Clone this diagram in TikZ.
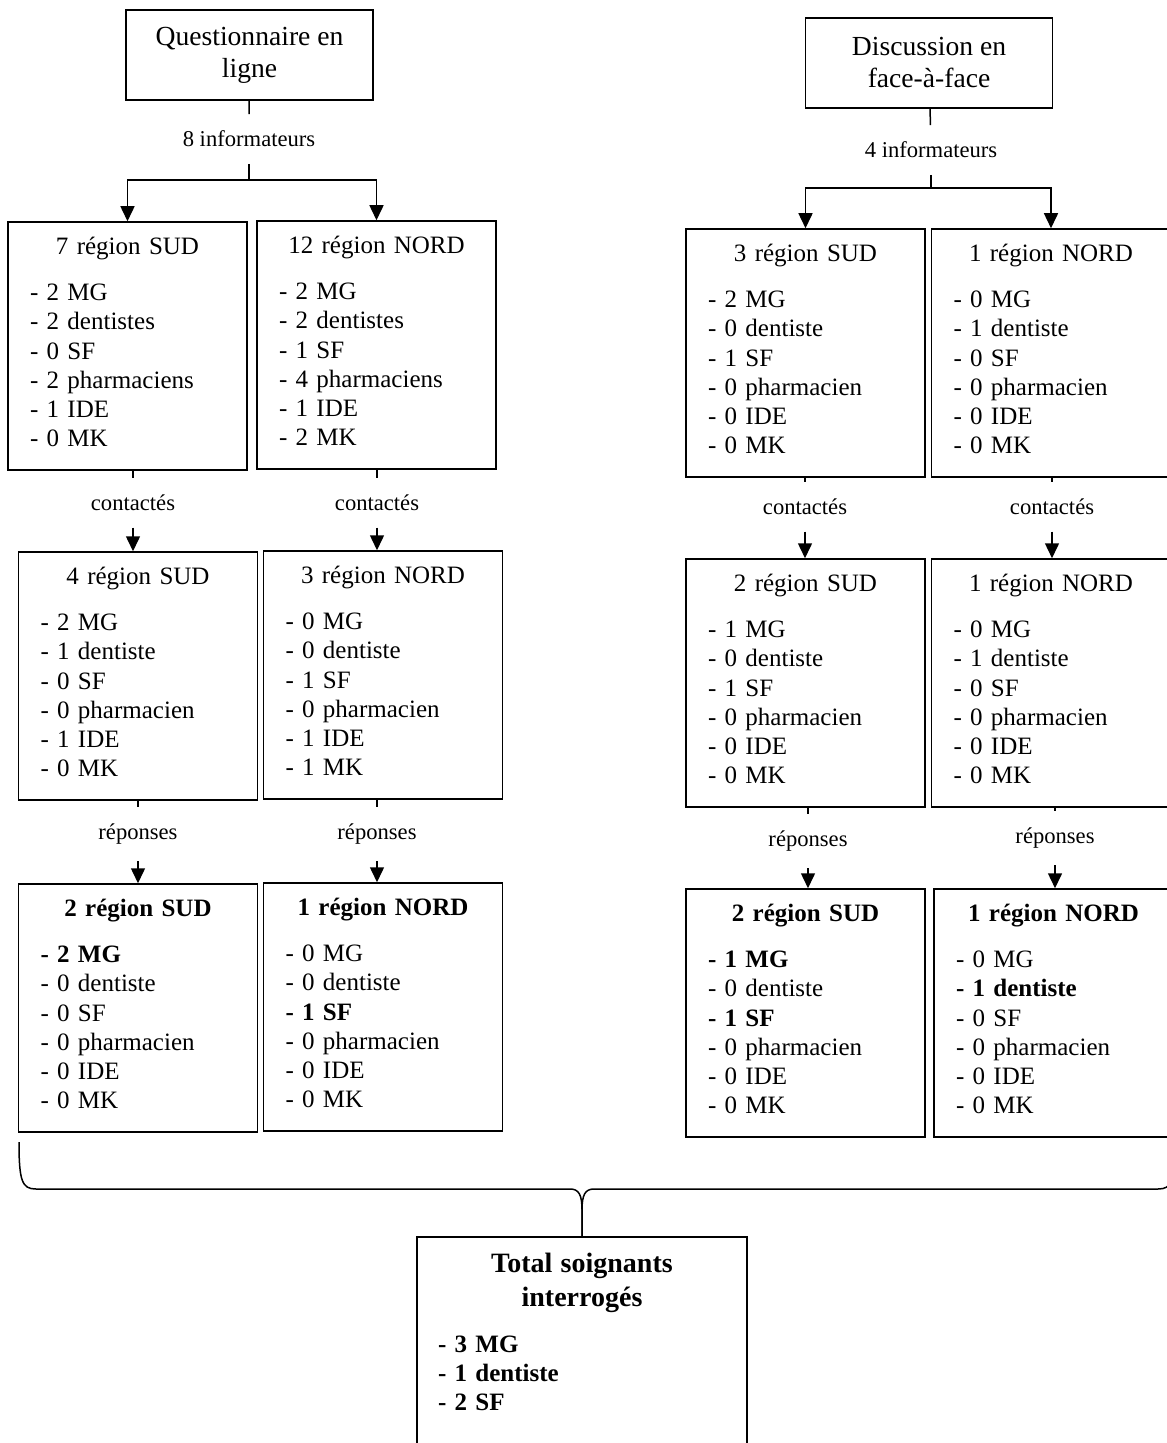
\documentclass[tikz,border=0pt]{standalone}
\usepackage{fontspec}
\setmainfont{Liberation Serif}
\usetikzlibrary{arrows.meta}
\tikzstyle{titre} = [rectangle, minimum width=123.5pt, minimum height=45pt, align=center, draw=black, font=\fontsize{13.8}{16}\selectfont]
\tikzstyle{region} = [rectangle, minimum width=119.5pt, minimum height=124pt, text width=97.5pt, inner xsep=11pt, align=left, draw=black, font=\fontsize{12.5}{14.65}\selectfont]
\tikzstyle{somme} = [rectangle, anchor=north, text width=144pt, inner xsep=10.5pt, inner ysep=8pt, text depth=100pt, align=left, draw=black, font=\fontsize{12.5}{14.5}\selectfont\bfseries]
\tikzstyle{etiq} = [inner xsep=2pt, inner ysep=8pt, font=\fontsize{11.3}{13}\selectfont]
\tikzstyle{arrow} = [->, >={Triangle[length=7.5pt,width=7pt]}]
\newcommand{\regbox}[2]{\makebox[\linewidth]{#1}\\[8.4pt]#2\rule[-4pt]{0pt}{0pt}}

\begin{document}
\begin{tikzpicture}[x=0.5pt, y=-0.5pt, line width=0.75pt, node distance=165pt]
        \useasboundingbox (0,0) rectangle (1166,1443);
        % questionnaire en ligne
        \node (quest) [titre] at (249.5,55) {Questionnaire en\\ligne};
        \node (inf1) [etiq] at (249,139) {8 informateurs};
        \coordinate (fork1) at (249,180);
        \node (sud1) [region] at (127.5,346) {\regbox{7 région SUD}{- 2 MG\\- 2 dentistes\\- 0 SF\\- 2 pharmaciens\\- 1 IDE\\- 0 MK}};
        \node (nord1) [region] at (376.5,345) {\regbox{12 région NORD}{- 2 MG\\- 2 dentistes\\- 1 SF\\- 4 pharmaciens\\- 1 IDE\\- 2 MK}};
        \node (sud2) [region, below of=sud1, xshift=5.25pt] {\regbox{4 région SUD}{- 2 MG\\- 1 dentiste\\- 0 SF\\- 0 pharmacien\\- 1 IDE\\- 0 MK}};
        \node (nord2) [region, below of=nord1, xshift=3.25pt] {\regbox{3 région NORD}{- 0 MG\\- 0 dentiste\\- 1 SF\\- 0 pharmacien\\- 1 IDE\\- 1 MK}};
        \node (sud3) [region, below of=sud2, yshift=-1pt] {\regbox{\textbf{2 région SUD}}{\textbf{- 2 MG}\\- 0 dentiste\\- 0 SF\\- 0 pharmacien\\- 0 IDE\\- 0 MK}};
        \node (nord3) [region, below of=nord2, yshift=-1pt] {\regbox{\textbf{1 région NORD}}{- 0 MG\\- 0 dentiste\\\textbf{- 1 SF}\\- 0 pharmacien\\- 0 IDE\\- 0 MK}};
        \node (cont1) [etiq] at (133,503) {contactés};
        \node (cont2) [etiq] at (377,503) {contactés};
        \node (rep1) [etiq] at (138,834) {réponses};
        \node (rep2) [etiq] at (377,834) {réponses};
        \draw (quest) -- (inf1);
        \draw (inf1) -- (fork1);
        \draw [arrow] (fork1) -| (sud1.north);
        \draw [arrow] (fork1) -| (nord1.north);
        \draw (sud1.south -| cont1) -- (cont1.north);
        \draw [arrow] (cont1.south) -- (cont1.south |- sud2.north);
        \draw (nord1.south -| cont2) -- (cont2.north);
        \draw [arrow] (cont2.south) -- (cont2.south |- nord2.north);
        \draw (sud2.south -| rep1) -- (rep1.north);
        \draw [arrow] (rep1.south) -- (rep1.south |- sud3.north);
        \draw (nord2.south -| rep2) -- (rep2.north);
        \draw [arrow] (rep2.south) -- (rep2.south |- nord3.north);

        % discussion en face-a-face
        \node (disc) [titre] at (929,63) {Discussion en\\face-à-face};
        \node (inf2) [etiq] at (931,150) {4 informateurs};
        \coordinate (fork2) at (931,188);
        \node (sud4) [region] at (805.5,353) {\regbox{3 région SUD}{- 2 MG\\- 0 dentiste\\- 1 SF\\- 0 pharmacien\\- 0 IDE\\- 0 MK}};
        \node (nord4) [region] at (1051,353) {\regbox{1 région NORD}{- 0 MG\\- 1 dentiste\\- 0 SF\\- 0 pharmacien\\- 0 IDE\\- 0 MK}};
        \node (sud5) [region, below of=sud4] {\regbox{2 région SUD}{- 1 MG\\- 0 dentiste\\- 1 SF\\- 0 pharmacien\\- 0 IDE\\- 0 MK}};
        \node (nord5) [region, below of=nord4] {\regbox{1 région NORD}{- 0 MG\\- 1 dentiste\\- 0 SF\\- 0 pharmacien\\- 0 IDE\\- 0 MK}};
        \node (sud6) [region, below of=sud5] {\regbox{\textbf{2 région SUD}}{\textbf{- 1 MG}\\- 0 dentiste\\\textbf{- 1 SF}\\- 0 pharmacien\\- 0 IDE\\- 0 MK}};
        \node (nord6) [region, below of=nord5, xshift=1.25pt] {\regbox{\textbf{1 région NORD}}{- 0 MG\\\textbf{- 1 dentiste}\\- 0 SF\\- 0 pharmacien\\- 0 IDE\\- 0 MK}};
        \node (cont3) [etiq] at (805,507) {contactés};
        \node (cont4) [etiq] at (1052,507) {contactés};
        \node (rep3) [etiq] at (808,841) {réponses};
        \node (rep4) [etiq] at (1055,838) {réponses};
        \draw (disc) -- (inf2);
        \draw (inf2) -- (fork2);
        \draw [arrow] (fork2) -| (sud4.north);
        \draw [arrow] (fork2) -| (nord4.north);
        \draw (sud4.south -| cont3) -- (cont3.north);
        \draw [arrow] (cont3.south) -- (cont3.south |- sud5.north);
        \draw (nord4.south -| cont4) -- (cont4.north);
        \draw [arrow] (cont4.south) -- (cont4.south |- nord5.north);
        \draw (sud5.south -| rep3) -- (rep3.north);
        \draw [arrow] (rep3.south) -- (rep3.south |- sud6.north);
        \draw (nord5.south -| rep4) -- (rep4.north);
        \draw [arrow] (rep4.south) -- (rep4.south |- nord6.north);

        % total
        \node (total) [somme] at (582,1236) {{\fontsize{14}{17}\selectfont\makebox[\linewidth]{Total soignants}\par\makebox[\linewidth]{interrogés}\par}\vspace{8.5pt}- 3 MG\par- 1 dentiste\par- 2 SF};
        \draw (19,1142) .. controls (19,1181) and (22,1189) .. (36,1189) -- (570,1189) .. controls (579,1189) and (582,1195) .. (582,1210) -- (total.north);
        \draw (total.north) -- (582,1210) .. controls (582,1195) and (585,1189) .. (594,1189) -- (1158,1189) .. controls (1172,1189) and (1175,1181) .. (1175,1142);
      \end{tikzpicture}
\end{document}
